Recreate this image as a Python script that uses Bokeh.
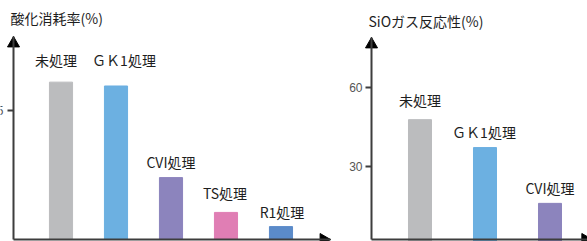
import math
from bokeh.plotting import figure
from bokeh.layouts import row
from bokeh.models import ColumnDataSource, Range1d, FixedTicker
from bokeh.core.properties import value
from bokeh.embed import file_html
from bokeh.resources import INLINE

# ---- data ----
left_title = "酸化消耗率(%)"
left_cats = ["未処理", "ＧＫ1処理", "CVI処理", "TS処理", "R1処理"]
left_vals = [6.1, 5.95, 2.4, 1.05, 0.5]
left_colors = ["#bbbcbe", "#6cb0e1", "#8c84bd", "#e07eb4", "#5b8bc9"]
left_ticks = [5]

right_title = "SiOガス反応性(%)"
right_cats = ["未処理", "ＧＫ1処理", "CVI処理"]
right_vals = [47.8, 37.2, 16.0]
right_colors = ["#bbbcbe", "#6cb0e1", "#8c84bd"]
right_ticks = [30, 60]

# ---- layout / styling ----
left_lbl_dx = [-5, 8, 0, -1, 1]
left_lbl_dy = [-22, -26, -16, -19, -15]
right_lbl_dx = [0, -1, 0]
right_lbl_dy = [-20, -16, -15]

FONT = "Noto Sans CJK JP"
AX = "#3d3d3d"
HEAD = 12  # arrow head size (px)


def make(cats, vals, colors, ticks, title, dx, dy, width, xr, yr, bw,
         x_axis_at, y_axis_at, x_tip, y_tip, px_x, px_y, title_dy, standoff):
    idx = list(range(len(cats)))
    src = ColumnDataSource(dict(x=idx, top=vals, color=colors, label=cats,
                                dx=dx, dy=dy))
    p = figure(width=width, height=241, output_backend="svg",
               toolbar_location=None, x_range=Range1d(*xr), y_range=Range1d(*yr),
               min_border=0, min_border_left=0, min_border_right=0,
               min_border_top=0, min_border_bottom=0)
    p.outline_line_color = None
    p.grid.visible = False
    p.vbar(x="x", top="top", bottom=0, width=bw, color="color", source=src)
    p.text(x="x", y="top", text="label", x_offset="dx", y_offset="dy",
           text_align="center", text_baseline="middle", text_font_size="14px",
           text_color="#1e1e1e", text_font=value(FONT), source=src)
    # title of the value axis
    p.text(x=[x_axis_at], y=[y_tip], text=[title], x_offset=-3, y_offset=title_dy,
           text_align="left", text_baseline="middle", text_font_size="14px",
           text_color="#1e1e1e", text_font=value(FONT))
    # y axis
    ya = p.yaxis[0]
    ya.fixed_location = x_axis_at
    ya.bounds = (y_axis_at, y_tip)
    ya.ticker = FixedTicker(ticks=ticks)
    ya.axis_line_color = AX
    ya.axis_line_width = 2
    ya.major_tick_line_color = AX
    ya.major_tick_line_width = 2
    ya.major_tick_out = 6
    ya.major_tick_in = 0
    ya.minor_tick_line_color = None
    ya.major_label_standoff = standoff
    ya.major_label_text_font = "Liberation Sans"
    ya.major_label_text_font_size = "12px"
    ya.major_label_text_color = "#555555"
    # x axis
    xa = p.xaxis[0]
    xa.fixed_location = y_axis_at
    xa.bounds = (x_axis_at, x_tip)
    xa.ticker = FixedTicker(ticks=[])
    xa.axis_line_color = AX
    xa.axis_line_width = 2
    xa.major_tick_line_color = None
    xa.minor_tick_line_color = None
    xa.major_label_text_font_size = "0px"
    # arrow heads (triangle centroid sits 2/3 of its height behind the tip)
    back = HEAD / 2 * math.sqrt(3) * 2 / 3
    p.scatter(x=[x_axis_at], y=[y_tip - back / px_y], marker="triangle", size=HEAD,
              color="black")
    p.scatter(x=[x_tip - back / px_x], y=[y_axis_at], marker="triangle", size=HEAD,
              angle=-math.pi / 2, color="black")
    return p


# left panel: bar pitch 55 px, 25.8 px per unit
p1 = make(left_cats, left_vals, left_colors, left_ticks, left_title,
          left_lbl_dx, left_lbl_dy, 335,
          (-1.1, 4.991), (-0.0775, 9.264), 0.42,
          -0.8636, 0.0, 4.9, 7.868, 55.0, 25.8, -18.5, 4)
# right panel: bar pitch 65 px, 2.633 px per unit
p2 = make(right_cats, right_vals, right_colors, right_ticks, right_title,
          right_lbl_dx, right_lbl_dy, 252,
          (-1.3, 2.577), (1.52, 93.05), 0.354,
          -0.746, 2.28, 2.65, 79.0, 65.0, 2.633, -16.0, 3)

p = row(p1, p2)
open("out.html", "w").write(file_html(p, INLINE))
